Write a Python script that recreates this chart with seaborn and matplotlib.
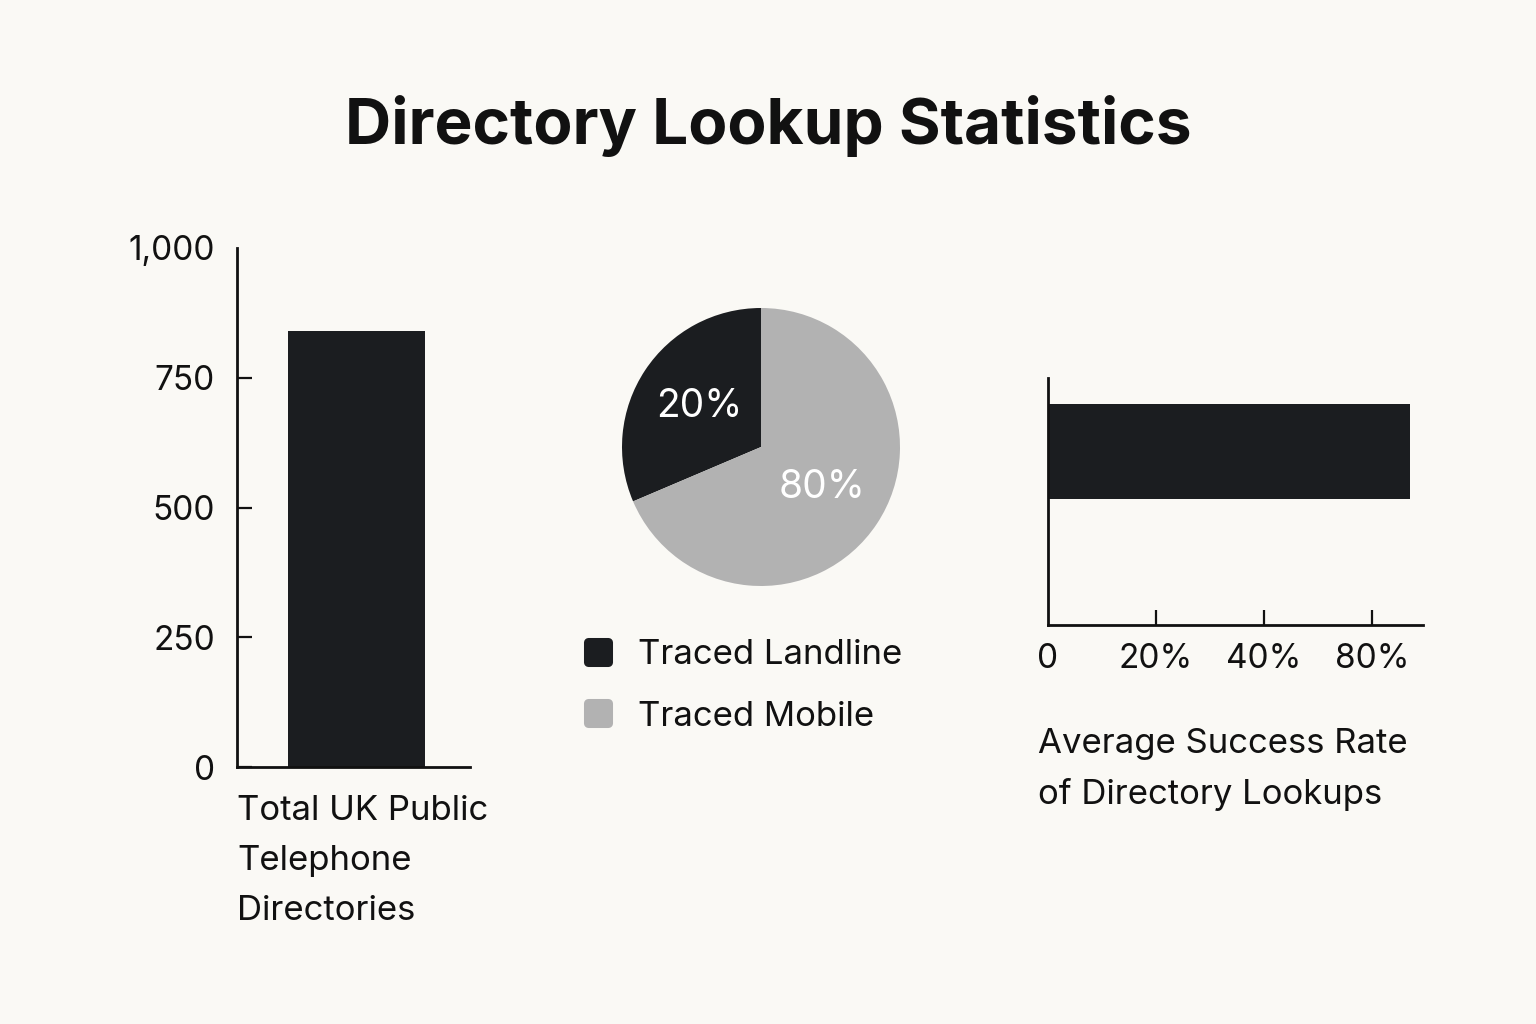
import matplotlib
matplotlib.use("Agg")
import matplotlib.pyplot as plt
from matplotlib.lines import Line2D
from matplotlib.markers import MarkerStyle
import seaborn as sns
import pandas as pd

# ---- data ----
title = "Directory Lookup Statistics"
bar_categories = ["Total UK Public\nTelephone\nDirectories"]
bar_values = [840]
bar_ticks = [0, 250, 500, 750, 1000]
bar_ticklabels = ["0", "250", "500", "750", "1,000"]

pie_categories = ["Traced Landline", "Traced Mobile"]
pie_shares = [31.4, 68.6]          # wedge sizes as drawn
pie_labels = ["20%", "80%"]        # printed labels

hbar_categories = ["Average Success Rate\nof Directory Lookups"]
hbar_values = [67]
hbar_ticks = [0, 20, 40, 60]
hbar_ticklabels = ["0", "20%", "40%", "80%"]

# ---- style ----
BG = "#faf9f5"
DARK = "#1b1d20"
LIGHT = "#b2b2b2"
INK = "#111111"

sns.set_theme(style="white")
plt.rcParams["font.family"] = ["Inter", "DejaVu Sans"]
plt.rcParams["axes.facecolor"] = BG
plt.rcParams["figure.facecolor"] = BG
FS = 25     # labels / legend
TS = 24     # tick labels

W, H = 1536, 1024
fig = plt.figure(figsize=(W / 100, H / 100), dpi=100)


def px_axes(x0, y0, x1, y1):
    return fig.add_axes([x0 / W, 1 - y1 / H, (x1 - x0) / W, (y1 - y0) / H])


fig.text(0.5, 1 - 126 / H, title, ha="center", va="center",
         fontsize=46, fontweight="bold", color=INK)

# ---- left: vertical bar ----
ax1 = px_axes(237, 248, 470, 767)
df1 = pd.DataFrame({"cat": bar_categories, "val": bar_values})
sns.barplot(data=df1, x="cat", y="val", color=DARK, saturation=1,
            width=0.8, ax=ax1, edgecolor=DARK, linewidth=0)
ax1.set_xlim(-0.698, 0.663)
ax1.set_ylim(0, 1000)
ax1.set_yticks(bar_ticks, bar_ticklabels)
ax1.set_xticks([])
ax1.set_ylabel("")
ax1.set_xlabel(bar_categories[0], loc="left", fontsize=FS, color=INK,
               labelpad=20, linespacing=1.72)
for s in ["top", "right"]:
    ax1.spines[s].set_visible(False)
for s in ["left", "bottom"]:
    ax1.spines[s].set_color(INK)
    ax1.spines[s].set_linewidth(2.0)
ax1.tick_params(axis="y", direction="in", length=11, width=1.6, color=INK,
                labelsize=TS, labelcolor=INK, pad=16, left=True)
ax1.yaxis.get_major_ticks()[-1].tick1line.set_visible(False)

# ---- middle: pie ----
cx, cy, r = 761, 447, 139
ax2 = px_axes(cx - r, cy - r, cx + r, cy + r)
wedges, _, autotexts = ax2.pie(pie_shares, colors=[DARK, LIGHT], startangle=90,
                               counterclock=True, radius=1, autopct="%d",
                               pctdistance=0.53,
                               wedgeprops=dict(linewidth=0))
for t, lab in zip(autotexts, pie_labels):
    t.set_text(lab)
    t.set_color("white")
    t.set_fontsize(28)
ax2.set_xlim(-1, 1)
ax2.set_ylim(-1, 1)
ax2.set_aspect("equal")

handles = [Line2D([], [], linestyle="none",
                  marker=MarkerStyle("s", joinstyle="round"),
                  markersize=15, markeredgewidth=6.5,
                  markerfacecolor=c, markeredgecolor=c)
           for c in [DARK, LIGHT]]
fig.legend(handles, pie_categories, loc="upper left",
           bbox_to_anchor=(560 / W, 1 - 622 / H), frameon=False,
           fontsize=FS, handlelength=1.2, handletextpad=0.55,
           labelspacing=0.84, borderpad=0, labelcolor=INK)

# ---- right: horizontal bar ----
ax3 = px_axes(1048, 378, 1423, 625)
df3 = pd.DataFrame({"cat": hbar_categories, "val": hbar_values})
sns.barplot(data=df3, y="cat", x="val", color=DARK, saturation=1,
            width=0.8, orient="h", ax=ax3, linewidth=0)
ax3.set_xlim(0, 69.4)
ax3.set_ylim(1.461, -0.619)
ax3.set_xticks(hbar_ticks, hbar_ticklabels)
ax3.set_yticks([])
ax3.set_ylabel("")
ax3.set_xlabel(hbar_categories[0], loc="left", fontsize=FS, color=INK,
               labelpad=38, linespacing=1.7)
ax3.xaxis.label.set_x(-10 / 375)
for s in ["top", "right"]:
    ax3.spines[s].set_visible(False)
for s in ["left", "bottom"]:
    ax3.spines[s].set_color(INK)
    ax3.spines[s].set_linewidth(2.0)
ax3.tick_params(axis="x", direction="in", length=11, width=1.6, color=INK,
                labelsize=TS, labelcolor=INK, pad=13, bottom=True)
ax3.xaxis.get_major_ticks()[0].tick1line.set_visible(False)

fig.savefig("out.png", dpi=100, facecolor=BG)
